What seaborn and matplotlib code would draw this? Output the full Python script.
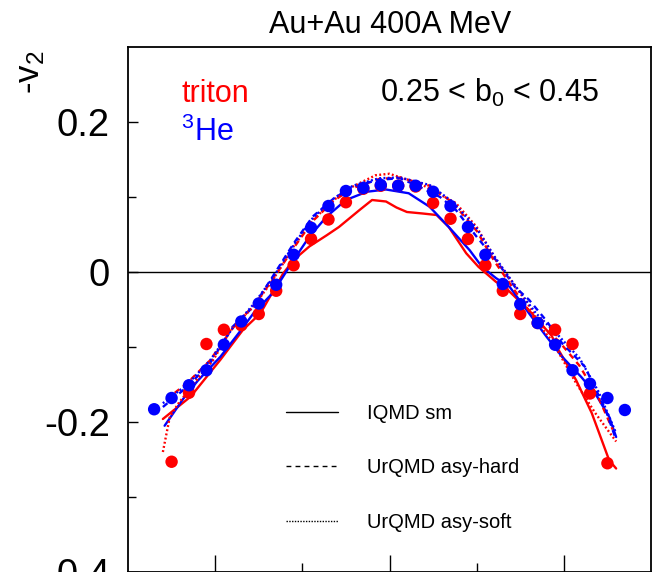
import matplotlib
matplotlib.use("Agg")
import matplotlib.pyplot as plt
from matplotlib.lines import Line2D
import seaborn as sns
import pandas as pd

# ---------------- data ----------------
# data points (rapidity y0, -v2)
triton_x = [-1.25, -1.15, -1.05, -0.95, -0.85, -0.75, -0.65, -0.55, -0.45, -0.35, -0.25, -0.15, -0.05,
            0.05, 0.15, 0.25, 0.35, 0.45, 0.55, 0.65, 0.75, 0.85, 0.95, 1.05, 1.15, 1.25]
triton_y = [-0.253, -0.161, -0.096, -0.077, -0.071, -0.056, -0.025, 0.009, 0.044, 0.070, 0.093, 0.111, 0.115,
            0.115, 0.114, 0.092, 0.071, 0.044, 0.009, -0.025, -0.056, -0.068, -0.077, -0.096, -0.162, -0.255]
he3_x = [-1.35, -1.25, -1.15, -1.05, -0.95, -0.85, -0.75, -0.65, -0.55, -0.45, -0.35, -0.25, -0.15, -0.05,
         0.05, 0.15, 0.25, 0.35, 0.45, 0.55, 0.65, 0.75, 0.85, 0.95, 1.05, 1.15, 1.25, 1.35]
he3_y = [-0.183, -0.168, -0.151, -0.131, -0.097, -0.066, -0.042, -0.017, 0.023, 0.059, 0.088, 0.108, 0.112, 0.116,
         0.115, 0.115, 0.107, 0.088, 0.060, 0.023, -0.016, -0.043, -0.068, -0.097, -0.131, -0.149, -0.168, -0.184]

# IQMD sm
iqmd_t_x = [-1.30, -1.14, -0.97, -0.84, -0.74, -0.61, -0.55, -0.46, -0.36, -0.29, -0.17, -0.10, -0.02, 0.04, 0.10,
            0.19, 0.27, 0.34, 0.44, 0.51, 0.61, 0.67, 0.80, 0.93, 0.97, 1.07, 1.16, 1.26, 1.30]
iqmd_t_y = [-0.196, -0.166, -0.117, -0.077, -0.055, -0.002, 0.016, 0.034, 0.049, 0.060, 0.083, 0.096, 0.094, 0.086, 0.080,
            0.078, 0.076, 0.060, 0.025, 0.007, -0.013, -0.022, -0.051, -0.085, -0.104, -0.144, -0.188, -0.251, -0.262]
iqmd_h_x = [-1.29, -1.18, -1.10, -0.97, -0.87, -0.78, -0.67, -0.55, -0.46, -0.36, -0.25, -0.13, -0.02, 0.11,
            0.23, 0.34, 0.46, 0.53, 0.61, 0.69, 0.80, 0.90, 0.99, 1.10, 1.18, 1.26, 1.30]
iqmd_h_y = [-0.205, -0.168, -0.145, -0.113, -0.083, -0.055, -0.028, 0.016, 0.047, 0.074, 0.096, 0.107, 0.110, 0.105,
            0.087, 0.060, 0.029, 0.007, -0.008, -0.020, -0.055, -0.086, -0.113, -0.140, -0.162, -0.193, -0.220]

# UrQMD asy-hard
hard_t_x = [-1.28, -1.16, -1.03, -0.90, -0.78, -0.67, -0.55, -0.44, -0.32, -0.21, -0.06, 0.06, 0.23, 0.36,
            0.50, 0.60, 0.71, 0.84, 0.97, 1.09, 1.20, 1.28]
hard_t_y = [-0.170, -0.148, -0.118, -0.075, -0.045, -0.010, 0.032, 0.068, 0.095, 0.112, 0.124, 0.126, 0.115, 0.093,
            0.055, 0.015, -0.022, -0.065, -0.092, -0.125, -0.168, -0.210]
hard_h_x = [-1.30, -1.16, -1.03, -0.90, -0.78, -0.67, -0.55, -0.44, -0.32, -0.21, -0.06, 0.06, 0.15, 0.29, 0.38,
            0.50, 0.61, 0.72, 0.80, 0.90, 0.99, 1.12, 1.24, 1.30]
hard_h_y = [-0.180, -0.153, -0.122, -0.073, -0.046, -0.006, 0.038, 0.074, 0.098, 0.114, 0.123, 0.125, 0.116, 0.100, 0.083,
            0.047, 0.016, -0.020, -0.037, -0.065, -0.095, -0.126, -0.184, -0.224]

# UrQMD asy-soft
soft_t_x = [-1.30, -1.26, -1.21, -1.12, -1.01, -0.91, -0.78, -0.67, -0.55, -0.44, -0.32, -0.21, -0.08, 0.00,
            0.19, 0.38, 0.50, 0.61, 0.71, 0.80, 0.88, 0.93, 1.07, 1.18, 1.30]
soft_t_y = [-0.240, -0.193, -0.175, -0.148, -0.117, -0.077, -0.046, -0.011, 0.034, 0.069, 0.096, 0.114, 0.129, 0.131,
            0.116, 0.092, 0.060, 0.016, -0.015, -0.045, -0.077, -0.091, -0.148, -0.188, -0.226]
soft_h_x = [-1.30, -1.16, -1.03, -0.90, -0.78, -0.67, -0.55, -0.44, -0.32, -0.21, -0.06, 0.06, 0.23, 0.36,
            0.50, 0.61, 0.72, 0.84, 0.97, 1.09, 1.20, 1.30]
soft_h_y = [-0.175, -0.150, -0.118, -0.075, -0.043, -0.008, 0.036, 0.072, 0.098, 0.115, 0.125, 0.126, 0.116, 0.094,
            0.058, 0.018, -0.018, -0.055, -0.085, -0.115, -0.160, -0.215]

legend_labels = ["IQMD sm", "UrQMD asy-hard", "UrQMD asy-soft"]
title_text = "Au+Au 400A MeV"

RED = "#ff0000"
BLUE = "#0000ff"

# ---------------- style ----------------
sns.set_style("white")
plt.rcParams["font.family"] = ["Liberation Sans", "DejaVu Sans"]
plt.rcParams["mathtext.fontset"] = "custom"
plt.rcParams["mathtext.rm"] = "Liberation Sans"
plt.rcParams["mathtext.it"] = "Liberation Sans:italic"
plt.rcParams["mathtext.bf"] = "Liberation Sans:bold"
plt.rcParams["text.color"] = "black"
plt.rcParams["xtick.color"] = "black"
plt.rcParams["ytick.color"] = "black"
plt.rcParams["axes.edgecolor"] = "black"

W, H = 653, 572
fig = plt.figure(figsize=(W / 100, H / 100), dpi=100)
ax = fig.add_axes([128 / W, 0.0, 523 / W, 525 / H])

ax.axhline(0, color="black", lw=1.0, zorder=1)

lw = 1.7
curves = [
    (iqmd_t_x, iqmd_t_y, RED, "-"),
    (iqmd_h_x, iqmd_h_y, BLUE, "-"),
    (hard_t_x, hard_t_y, RED, (0, (2.5, 2.0))),
    (hard_h_x, hard_h_y, BLUE, (0, (2.5, 2.0))),
    (soft_t_x, soft_t_y, RED, (0, (0.8, 1.0))),
    (soft_h_x, soft_h_y, BLUE, (0, (0.8, 1.0))),
]
for cx, cy, col, ls in curves:
    df = pd.DataFrame({"x": cx, "y": cy})
    sns.lineplot(data=df, x="x", y="y", sort=False, estimator=None, color=col,
                 linestyle=ls, lw=lw, ax=ax, zorder=2)

df_t = pd.DataFrame({"x": triton_x, "y": triton_y})
df_h = pd.DataFrame({"x": he3_x, "y": he3_y})
sns.scatterplot(data=df_t, x="x", y="y", color=RED, s=80, edgecolor="none", ax=ax, zorder=3)
sns.scatterplot(data=df_h, x="x", y="y", color=BLUE, s=80, edgecolor="none", ax=ax, zorder=4)

ax.set_xlim(-1.5, 1.5)
ax.set_ylim(-0.4, 0.3)
ax.set_xlabel("")
ax.set_ylabel("")
ax.set_xticks([-1, 0, 1])
ax.set_xticks([-0.5, 0.5], minor=True)
ax.set_yticks([-0.4, -0.2, 0, 0.2])
ax.set_yticks([-0.3, -0.1, 0.1], minor=True)
ax.set_yticklabels(["-0.4", "-0.2", "0", "0.2"])
ax.tick_params(axis="x", which="major", direction="in", length=12, width=1.0, labelbottom=False, bottom=True)
ax.tick_params(axis="x", which="minor", direction="in", length=6.5, width=1.0, bottom=True)
ax.tick_params(axis="y", which="major", direction="in", length=7.5, width=1.0, labelsize=27.5, pad=13, left=True)
ax.tick_params(axis="y", which="minor", direction="in", length=5.5, width=1.0, left=True)
for sp in ax.spines.values():
    sp.set_linewidth(1.3)
    sp.set_color("black")

handles = [Line2D([], [], color="black", lw=1.0, linestyle="-"),
           Line2D([], [], color="black", lw=1.0, linestyle=(0, (3.5, 3.0))),
           Line2D([], [], color="black", lw=1.0, linestyle=(0, (1.0, 1.0)))]
ax.legend(handles, legend_labels, loc="upper left", bbox_to_anchor=(0.302, 0.32),
          frameon=False, borderpad=0, borderaxespad=0, handlelength=2.58,
          handletextpad=1.44, labelspacing=1.76, fontsize=14.5)

fig.text(390 / W, 1 - 33 / H, title_text, ha="center", va="baseline", fontsize=22)
fig.text(181 / W, 1 - 102 / H, "triton", color=RED, ha="left", va="baseline", fontsize=22)
fig.text(181 / W, 1 - 141 / H, r"$^{3}$He", color=BLUE, ha="left", va="baseline", fontsize=22)
fig.text(380 / W, 1 - 102 / H, r"0.25 < $\mathrm{b}_{0}$ < 0.45", color="black", ha="left",
         va="baseline", fontsize=22)
fig.text(14 / W, 1 - 50 / H, r"-$\mathrm{v}_{2}$", rotation=90, ha="left", va="top", fontsize=25)

fig.savefig("out.png", dpi=100)
